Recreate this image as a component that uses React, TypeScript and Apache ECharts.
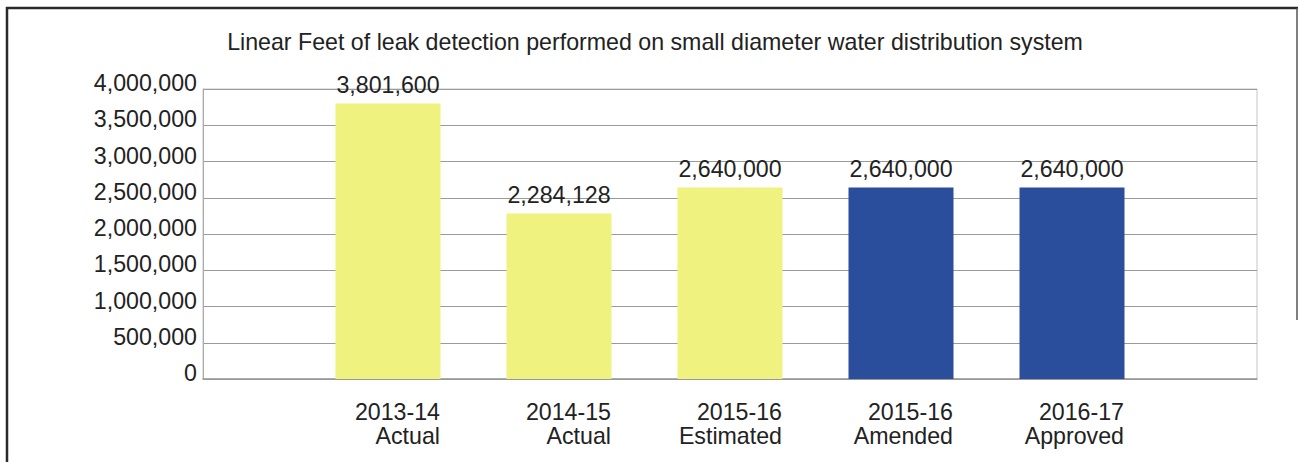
import React, { useEffect, useRef } from "react";
import * as echarts from "echarts";

const title = "Linear Feet of leak detection performed on small diameter water distribution system";
const years = ["2013-14", "2014-15", "2015-16", "2015-16", "2016-17"];
const statuses = ["Actual", "Actual", "Estimated", "Amended", "Approved"];
const values = [3801600, 2284128, 2640000, 2640000, 2640000];
const yMin = 0;
const yMax = 4000000;
const yStep = 500000;

const statusColor: Record<string, string> = {
  Actual: "#eff27e",
  Estimated: "#eff27e",
  Amended: "#2b4e9c",
  Approved: "#2b4e9c",
};

const FONT = "'Liberation Sans', Arial, Helvetica, sans-serif";
const FS = 23.2;

export default function App() {
  const ref = useRef<HTMLDivElement>(null);
  useEffect(() => {
    if (!ref.current) return;
    const chart = echarts.init(ref.current, undefined, { renderer: "svg" });
    const categories = years.map((y, i) => `${y}|${statuses[i]}`);
    const fmt = (v: number) => v.toLocaleString("en-US");
    chart.setOption({
      animation: false,
      backgroundColor: "#ffffff",
      textStyle: { fontFamily: FONT },
      title: {
        text: title,
        left: 655,
        top: 30,
        textAlign: "center",
        padding: 0,
        textStyle: { fontFamily: FONT, fontSize: FS, fontWeight: "normal", color: "#222" },
      },
      graphic: [
        { type: "line", shape: { x1: 7, y1: 7, x2: 7, y2: 470 }, style: { stroke: "#2a2a2a", lineWidth: 2.5 } },
        { type: "line", shape: { x1: 6, y1: 8, x2: 1298, y2: 8 }, style: { stroke: "#2a2a2a", lineWidth: 2.5 } },
        { type: "line", shape: { x1: 1297, y1: 8, x2: 1297, y2: 320 }, style: { stroke: "#555", lineWidth: 1.5 } },
      ],
      grid: [
        { left: 203, top: 89, width: 1054, height: 290, show: true, borderColor: "#c4c4c4", borderWidth: 1, backgroundColor: "transparent" },
        { left: 302.5, top: 89, width: 855, height: 290 },
      ],
      xAxis: [
        {
          gridIndex: 0,
          type: "category",
          data: ["a"],
          axisLine: { show: true, lineStyle: { color: "#999", width: 1.5 } },
          axisTick: { show: false },
          axisLabel: { show: false },
          splitLine: { show: false },
        },
        {
          gridIndex: 1,
          type: "category",
          data: categories,
          axisLine: { show: false },
          axisTick: { show: false },
          axisLabel: {
            show: true,
            interval: 0,
            align: "center",
            margin: 21,
            formatter: (v: string) => {
              const [a, b] = v.split("|");
              return `{l|${a}}\n{l|${b}}`;
            },
            rich: {
              l: { width: 104, align: "right", fontSize: FS, lineHeight: 24, color: "#222", fontFamily: FONT },
            },
          },
        },
      ],
      yAxis: [
        {
          gridIndex: 0,
          type: "value",
          min: yMin,
          max: yMax,
          interval: yStep,
          axisLine: { show: true, lineStyle: { color: "#aaa", width: 1 } },
          axisTick: { show: false },
          axisLabel: {
            show: true,
            margin: 6,
            fontSize: FS,
            color: "#222",
            fontFamily: FONT,
            verticalAlign: "bottom",
            lineHeight: 12,
            formatter: (v: number) => fmt(v),
          },
          splitLine: { show: true, lineStyle: { color: "#9a9a9a", width: 1.2 } },
        },
        {
          gridIndex: 1,
          type: "value",
          min: yMin,
          max: yMax,
          interval: yStep,
          show: false,
          splitLine: { show: false },
        },
      ],
      series: [
        {
          type: "bar",
          xAxisIndex: 1,
          yAxisIndex: 1,
          barWidth: 105,
          data: values.map((v, i) => ({ value: v, itemStyle: { color: statusColor[statuses[i]] } })),
          label: {
            show: true,
            position: "top",
            distance: 7,
            fontSize: FS,
            color: "#222",
            fontFamily: FONT,
            formatter: (p: any) => fmt(p.value),
          },
        },
      ],
    });
    return () => chart.dispose();
  }, []);
  return (
    <div
      ref={ref}
      style={{ position: "absolute", left: 0, top: 0, width: 1299, height: 462 }}
    />
  );
}
